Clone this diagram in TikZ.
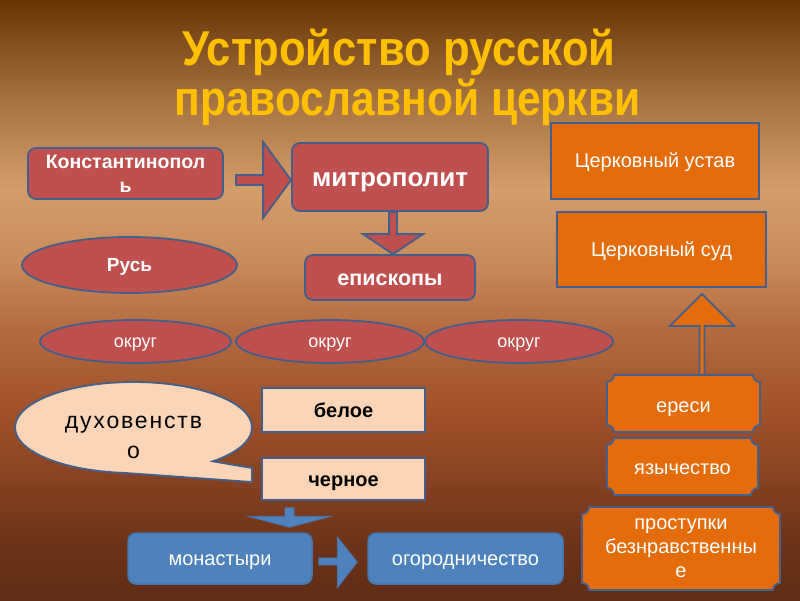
\documentclass[tikz,border=0pt]{standalone}
\usepackage{fontspec}
\setmainfont{Liberation Sans}
\usetikzlibrary{shapes.geometric,calc}
\pgfdeclarelayer{bg}\pgfdeclarelayer{mid}
\pgfsetlayers{bg,mid,main}
\definecolor{bgA}{HTML}{5E2C16}
\definecolor{bgB}{HTML}{6E341A}
\definecolor{bgC}{HTML}{9E4F28}
\definecolor{bgD}{HTML}{B46A40}
\definecolor{bgE}{HTML}{C98B5A}
\definecolor{bgF}{HTML}{D49D6C}
\definecolor{bgG}{HTML}{A57340}
\definecolor{bgH}{HTML}{673504}
\definecolor{redf}{HTML}{C0504D}
\definecolor{orgf}{HTML}{E46C0A}
\definecolor{peachf}{HTML}{FBD5B5}
\definecolor{bluef}{HTML}{4F81BD}
\definecolor{bordc}{HTML}{43608C}
\definecolor{bluebord}{HTML}{4676AE}
\definecolor{titlec}{HTML}{FFC000}
\pgfdeclareverticalshading{bgshade}{100bp}{color(0bp)=(bgA); color(25bp)=(bgA); color(30bp)=(bgB); color(40bp)=(bgC); color(47.5bp)=(bgD); color(53.3bp)=(bgE); color(59.2bp)=(bgF); color(66.7bp)=(bgG); color(75bp)=(bgH); color(100bp)=(bgH)}
\newcommand\plaqueof[1]{%
  \draw[plq] ([xshift=7pt]#1.north west) -- ([xshift=-7pt]#1.north east)
    arc[start angle=180,end angle=270,radius=7pt] -- ([yshift=7pt]#1.south east)
    arc[start angle=90,end angle=180,radius=7pt] -- ([xshift=7pt]#1.south west)
    arc[start angle=0,end angle=90,radius=7pt] -- ([yshift=-7pt]#1.north west)
    arc[start angle=270,end angle=360,radius=7pt] -- cycle;}
\begin{document}
\begin{tikzpicture}[x=1pt,y=1pt,
  titlestyle/.style={text=titlec,font=\fontsize{49}{50}\selectfont\bfseries,anchor=base,inner sep=0},
  redbox/.style={rectangle,rounded corners=8pt,fill=redf,draw=bordc,line width=1.8pt,text=white,align=center,inner sep=0,font=\bfseries},
  redell/.style={ellipse,fill=redf,draw=bordc,line width=1.8pt,text=white,align=center,inner sep=0},
  okrug/.style={redell,minimum height=43pt,font=\fontsize{18}{22}\selectfont,text height=11.4pt,text depth=0pt},
  orgbox/.style={rectangle,fill=orgf,draw=bordc,line width=1.8pt,text=white,align=center,inner sep=0,font=\fontsize{20}{24}\selectfont,text depth=0pt},
  plqtext/.style={rectangle,inner sep=0,outer sep=0,text=white,align=center,font=\fontsize{20}{24}\selectfont},
  plq/.style={fill=orgf,draw=bordc,line width=1.8pt},
  calloutstyle/.style={fill=peachf,draw=bordc,line width=1.8pt,line join=miter},
  peachbox/.style={rectangle,fill=peachf,draw=bordc,line width=1.5pt,text=black,align=center,inner sep=0,font=\fontsize{20}{24}\selectfont\bfseries,minimum width=163pt,text height=14.4pt,text depth=0pt},
  bluebox/.style={rectangle,rounded corners=8pt,fill=bluef,draw=bluebord,line width=1.5pt,text=white,align=center,inner sep=0,font=\fontsize{20}{24}\selectfont,minimum height=51pt,text height=14.4pt,text depth=0pt},
  redarrow/.style={fill=redf,draw=bordc,line width=1.8pt,line join=miter},
  orgarrow/.style={fill=orgf,draw=bordc,line width=1.8pt,line join=miter},
  bluearrow/.style={fill=bluef,draw=bluebord,line width=0.8pt,line join=miter}
]
\useasboundingbox (0,0) rectangle (800,-600);
\begin{pgfonlayer}{bg}
\shade[shading=bgshade] (0,0) rectangle (800,-600);
\end{pgfonlayer}

% title
\node[titlestyle] (title1) at (399,-65) {\scalebox{0.89}[1]{Устройство русской}};
\node[titlestyle] (title2) at (407.5,-115) {\scalebox{0.868}[1]{православной церкви}};

% red group
\node[redbox,minimum width=195pt,minimum height=51pt,font=\fontsize{19.5}{24}\selectfont\bfseries] (konst) at (125.5,-173.5) {Константинопол\\ь};
\node[redbox,minimum width=196pt,minimum height=68pt,font=\fontsize{26}{28}\selectfont\bfseries,text height=19.5pt,text depth=0pt] (mitr) at (390,-177) {митрополит};
\node[redbox,minimum width=170pt,minimum height=45pt,font=\fontsize{21.5}{24}\selectfont\bfseries,text height=16.2pt,text depth=0pt] (episk) at (390,-277.5) {епископы};
\node[redell,minimum width=215pt,minimum height=56pt,font=\fontsize{19}{22}\selectfont\bfseries,text height=13.9pt,text depth=0pt] (rus) at (129.5,-265) {Русь};
\node[okrug,minimum width=191pt] (okr1) at (135.5,-341.5) {округ};
\node[okrug,minimum width=188pt] (okr2) at (330,-341.5) {округ};
\node[okrug,minimum width=188pt] (okr3) at (519,-341.5) {округ};

\path[redarrow] let \p1=(konst.east), \p2=(mitr.west) in
  (\x1+12pt,\y2-3pt+5pt) -- (\x2-28pt,\y2-3pt+5pt) -- (\x2-28pt,\y2-3pt+38pt) -- (\x2,\y2-3pt)
  -- (\x2-28pt,\y2-3pt-38pt) -- (\x2-28pt,\y2-3pt-5pt) -- (\x1+12pt,\y2-3pt-5pt) -- cycle;
\path[redarrow] let \p1=(mitr.south), \p2=(episk.north) in
  (\x1+3pt-4pt,\y1) -- (\x1+3pt+4pt,\y1) -- (\x1+3pt+4pt,\y2+20pt) -- (\x1+3pt+30pt,\y2+20pt)
  -- (\x1+3pt,\y2) -- (\x1+3pt-30pt,\y2+20pt) -- (\x1+3pt-4pt,\y2+20pt) -- cycle;

% orange group
\node[orgbox,minimum width=208pt,minimum height=76pt,text height=13.4pt] (ustav) at (655,-161) {Церковный устав};
\node[orgbox,minimum width=209pt,minimum height=75pt,text height=14.4pt] (sud) at (661.5,-249.5) {Церковный суд};
\node[plqtext,minimum width=153pt,minimum height=57pt,text height=17.4pt,text depth=0pt] (eresi) at (683.5,-403.5) {ереси};
\node[plqtext,minimum width=151pt,minimum height=57pt,text height=15.4pt,text depth=0pt] (yaz) at (682.5,-466.5) {язычество};
\node[plqtext,minimum width=198pt,minimum height=83pt] (prost) at (681,-548.5) {проступки\\безнравственны\\е};
\begin{pgfonlayer}{mid}
\plaqueof{eresi}
\plaqueof{yaz}
\plaqueof{prost}
\end{pgfonlayer}
\path[orgarrow] let \p1=(eresi.north), \p2=(sud.south) in
  (\x1+18.5pt-2.5pt,\y1) -- (\x1+18.5pt-2.5pt,\y2-38pt) -- (\x1+18.5pt-32pt,\y2-38pt) -- (\x1+18.5pt,\y2-6pt)
  -- (\x1+18.5pt+32pt,\y2-38pt) -- (\x1+18.5pt+2.5pt,\y2-38pt) -- (\x1+18.5pt+2.5pt,\y1) -- cycle;

% clergy callout
\coordinate (duhc) at (133.5,-427.5);
\coordinate (duhtip) at (252,-482);
\begin{pgfonlayer}{mid}
\draw[calloutstyle] ($(duhc)+(79.3,-33.8)$) arc[start angle=-48,end angle=265,x radius=118.5,y radius=45.5]
  -- (duhtip) -- ($(duhtip)+(0,14)$) -- cycle;
\end{pgfonlayer}
\node[align=center,text=black,inner sep=0,font=\fontsize{23}{30}\selectfont\addfontfeature{LetterSpace=8}] (duh) at (133.5,-437) {духовенств\\о};
\node[peachbox,minimum height=44pt] (beloe) at (343.5,-410) {белое};
\node[peachbox,minimum height=42pt] (chern) at (343.5,-479) {черное};

% blue group
\node[bluebox,minimum width=184pt] (monast) at (220,-558.5) {монастыри};
\node[bluebox,minimum width=195pt] (ogor) at (465.5,-558.5) {огородничество};
\path[bluearrow] let \p1=(chern.south), \p2=(monast.north) in
  (285,\y1-7pt) -- (294,\y1-7pt) -- (294,\y2+16pt) -- (331,\y2+16pt) -- (289.5,\y2+5pt)
  -- (248,\y2+16pt) -- (285,\y2+16pt) -- cycle;
\path[bluearrow] let \p1=(monast.east), \p2=(ogor.west) in
  (\x1+6pt,-558) -- (\x2-30pt,-558) -- (\x2-30pt,-537) -- (\x2-10pt,-562) -- (\x2-30pt,-588)
  -- (\x2-30pt,-565) -- (\x1+6pt,-565) -- cycle;
\end{tikzpicture}
\end{document}
